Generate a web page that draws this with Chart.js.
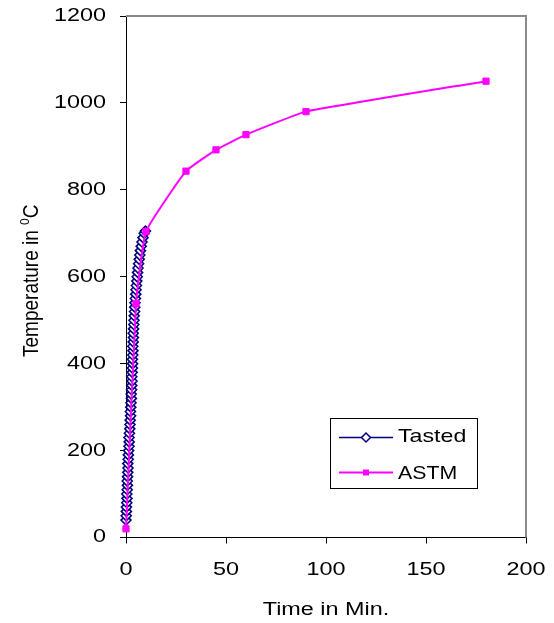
<!DOCTYPE html>
<html>
<head>
<meta charset="utf-8">
<title>Temperature vs time</title>
<script src="https://cdn.jsdelivr.net/npm/chart.js@4.4.1/dist/chart.umd.min.js"></script>
<style>
    body { margin: 0; background: #fff; }
    canvas { display: block; }
</style>
</head>
<body>
<canvas id="tempChart" width="554" height="623"></canvas>
<script>
// Measured furnace temperature (time in min, temperature in degC)
const testedTime = [
    0.0, 0.1, 0.2, 0.2, 0.4, 0.5, 0.4, 0.6, 0.7, 0.6,
    0.8, 0.9, 1.0, 0.9, 1.1, 1.2, 1.3, 1.5, 1.6, 1.5,
    1.7, 1.9, 2.0, 2.1, 2.3, 2.2, 2.4, 2.5, 2.7, 2.6,
    2.8, 2.9, 3.0, 2.9, 3.1, 3.2, 3.3, 3.2, 3.4, 3.5,
    3.4, 3.6, 3.7, 3.6, 3.8, 3.9, 4.0, 4.1, 4.3, 4.4,
    4.5, 4.7, 4.9, 5.0, 5.2, 5.4, 5.6, 5.8, 6.0, 6.3,
    6.6, 6.9, 7.2, 7.6, 8.0, 8.5, 9.1, 9.7
];
const testedTemp = [
    40, 50, 60, 70, 80, 90, 100, 110, 120, 130,
    140, 150, 160, 170, 180, 190, 200, 210, 220, 230,
    240, 250, 260, 270, 280, 290, 300, 310, 320, 330,
    340, 350, 360, 370, 380, 390, 400, 410, 420, 430,
    440, 450, 460, 470, 480, 490, 500, 510, 520, 530,
    540, 550, 560, 570, 580, 590, 600, 610, 620, 630,
    640, 650, 660, 670, 680, 690, 700, 705
];

// Standard ASTM fire curve
const astmTime = [0, 5, 10, 30, 45, 60, 90, 180];
const astmTemp = [20, 538, 704, 843, 892, 927, 980, 1050];

const seriesNames = ['Tasted', 'ASTM'];
const xTitle = 'Time in Min.';
const yTitle = 'Temperature in ';

const NAVY = '#000080';
const MAGENTA = '#ff00ff';
const FONT = '"Liberation Sans", Arial, sans-serif';
const STRETCH = 1.3;

function toPoints(xs, ys) {
    return xs.map((x, i) => ({ x: x, y: ys[i] }));
}

// text drawn a bit wider than the font's natural width
function wideText(ctx, text, x, y, align, baseline, sx) {
    ctx.save();
    ctx.translate(x, y);
    ctx.scale(sx, 1);
    ctx.textAlign = align;
    ctx.textBaseline = baseline;
    ctx.fillText(text, 0, 0);
    ctx.restore();
}

const labelsPlugin = {
    id: 'labels',
    afterDraw(chart) {
        const ctx = chart.ctx;
        const area = chart.chartArea;
        const xs = chart.scales.x;
        const ys = chart.scales.y;

        ctx.save();

        // grey frame on top and right
        ctx.strokeStyle = '#8a8a8a';
        ctx.lineWidth = 2;
        ctx.beginPath();
        ctx.moveTo(area.left, area.top);
        ctx.lineTo(area.right, area.top);
        ctx.lineTo(area.right, area.bottom);
        ctx.stroke();

        ctx.fillStyle = '#000';
        ctx.font = '18px ' + FONT;

        // tick labels
        ys.ticks.forEach(t => {
            wideText(ctx, String(t.value), area.left - 20, ys.getPixelForValue(t.value), 'right', 'middle', STRETCH);
        });
        xs.ticks.forEach(t => {
            wideText(ctx, String(t.value), xs.getPixelForValue(t.value), area.bottom + 33, 'center', 'middle', STRETCH);
        });

        // axis titles
        wideText(ctx, xTitle, (area.left + area.right) / 2, 615, 'center', 'alphabetic', STRETCH);

        ctx.save();
        ctx.translate(37.5, (area.top + area.bottom) / 2 + 4);
        ctx.rotate(-Math.PI / 2);
        ctx.scale(1, 1.12);
        ctx.font = '19px ' + FONT;
        const w1 = ctx.measureText(yTitle).width;
        ctx.font = '12px ' + FONT;
        const w0 = ctx.measureText('0').width;
        ctx.font = '19px ' + FONT;
        const wc = ctx.measureText('C').width;
        let pos = -(w1 + w0 + wc) / 2;
        ctx.textAlign = 'left';
        ctx.textBaseline = 'alphabetic';
        ctx.fillText(yTitle, pos, 0);
        pos += w1;
        ctx.font = '12px ' + FONT;
        ctx.fillText('0', pos, -8);
        pos += w0;
        ctx.font = '19px ' + FONT;
        ctx.fillText('C', pos, 0);
        ctx.restore();

        // legend box
        ctx.fillStyle = '#fff';
        ctx.fillRect(330.5, 418.5, 147, 70);
        ctx.strokeStyle = '#000';
        ctx.lineWidth = 1;
        ctx.strokeRect(330.5, 418.5, 147, 70);

        const rows = [437.5, 472.5];

        // Tasted sample
        ctx.strokeStyle = NAVY;
        ctx.lineWidth = 1.5;
        ctx.beginPath();
        ctx.moveTo(339, rows[0]);
        ctx.lineTo(393, rows[0]);
        ctx.stroke();
        ctx.fillStyle = '#fff';
        ctx.beginPath();
        ctx.moveTo(366, rows[0] - 4.5);
        ctx.lineTo(370.5, rows[0]);
        ctx.lineTo(366, rows[0] + 4.5);
        ctx.lineTo(361.5, rows[0]);
        ctx.closePath();
        ctx.fill();
        ctx.stroke();

        // ASTM sample
        ctx.strokeStyle = MAGENTA;
        ctx.lineWidth = 2;
        ctx.beginPath();
        ctx.moveTo(339, rows[1]);
        ctx.lineTo(393, rows[1]);
        ctx.stroke();
        ctx.fillStyle = MAGENTA;
        ctx.fillRect(363, rows[1] - 3, 6, 6);

        ctx.fillStyle = '#000';
        ctx.font = '19px ' + FONT;
        wideText(ctx, seriesNames[0], 398, 442, 'left', 'alphabetic', 1.22);
        wideText(ctx, seriesNames[1], 398, 479, 'left', 'alphabetic', 1.12);

        ctx.restore();
    }
};

const ctx = document.getElementById('tempChart').getContext('2d');
const chart = new Chart(ctx, {
    type: 'line',
    data: {
        datasets: [
            {
                label: seriesNames[0],
                data: toPoints(testedTime, testedTemp),
                borderColor: NAVY,
                borderWidth: 1.5,
                pointStyle: 'rectRot',
                pointRadius: 5,
                pointBorderWidth: 1.6,
                pointBorderColor: NAVY,
                pointBackgroundColor: '#fff',
                tension: 0,
                clip: false,
                order: 2
            },
            {
                label: seriesNames[1],
                data: toPoints(astmTime, astmTemp),
                borderColor: MAGENTA,
                borderWidth: 2,
                pointStyle: 'rect',
                pointRadius: 4.4,
                pointBorderWidth: 1,
                pointBorderColor: MAGENTA,
                pointBackgroundColor: MAGENTA,
                tension: 0.12,
                clip: false,
                order: 1
            }
        ]
    },
    options: {
        responsive: false,
        animation: false,
        devicePixelRatio: 1,
        layout: {
            padding: { left: 120, right: 28, top: 16, bottom: 79.5 }
        },
        plugins: {
            legend: { display: false },
            tooltip: { enabled: false }
        },
        scales: {
            x: {
                type: 'linear',
                min: 0,
                max: 200,
                ticks: { stepSize: 50, display: false },
                grid: { drawOnChartArea: false, drawTicks: true, tickLength: 6, color: '#000' },
                border: { display: true, color: '#000', width: 1 }
            },
            y: {
                type: 'linear',
                min: 0,
                max: 1200,
                ticks: { stepSize: 200, display: false },
                grid: { drawOnChartArea: false, drawTicks: true, tickLength: 6, color: '#000' },
                border: { display: true, color: '#000', width: 1 }
            }
        }
    },
    plugins: [labelsPlugin]
});
</script>
</body>
</html>
